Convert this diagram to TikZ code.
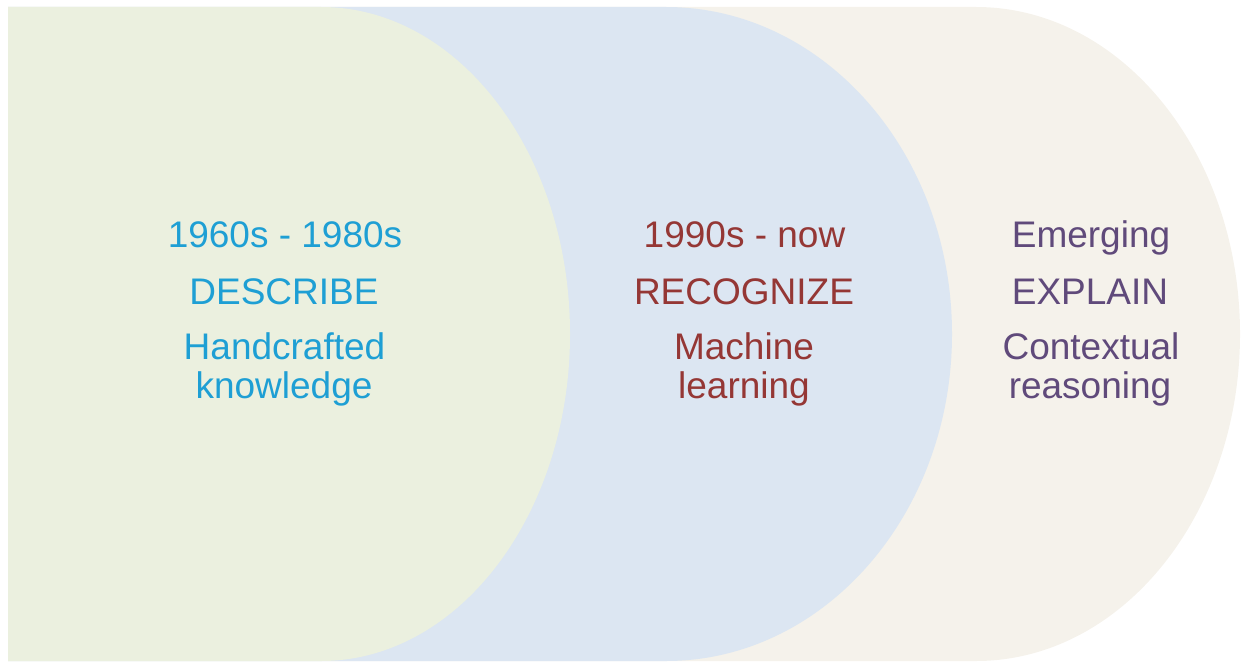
\documentclass[tikz,border=0pt]{standalone}
\usepackage{fontspec}
\setmainfont{Liberation Sans}
\definecolor{fillgreen}{HTML}{EBF0DF}
\definecolor{fillblue}{HTML}{DCE6F2}
\definecolor{fillbeige}{HTML}{F5F2EB}
\definecolor{txtblue}{HTML}{1E9FD4}
\definecolor{txtred}{HTML}{953735}
\definecolor{txtpurple}{HTML}{604A7B}
\tikzset{
  lbl/.style={anchor=base, inner sep=0pt, font=\fontsize{37}{38}\selectfont},
}
\begin{document}
\begin{tikzpicture}[x=1pt,y=-1pt]
\useasboundingbox (0,0) rectangle (1241,663);
% beige (back)
\fill[fillbeige] (8,7) -- (976,7) arc[start angle=90, end angle=-90, x radius=264pt, y radius=327pt] -- (8,661) -- cycle;
% blue (middle)
\fill[fillblue] (8,7) -- (666,7) arc[start angle=90, end angle=-90, x radius=286pt, y radius=327pt] -- (8,661) -- cycle;
% green (front)
\fill[fillgreen] (8,7) -- (321,7) arc[start angle=90, end angle=-90, x radius=249pt, y radius=327pt] -- (8,661) -- cycle;
% texts
\node[lbl, text=txtblue] (g1) at (285,247) {1960s - 1980s};
\node[lbl, text=txtblue] (g2) at (284,304) {DESCRIBE};
\node[lbl, text=txtblue] (g3) at (284.5,359) {Handcrafted};
\node[lbl, text=txtblue] (g4) at (284,398) {knowledge};
\node[lbl, text=txtred] (b1) at (744.5,247) {1990s - now};
\node[lbl, text=txtred] (b2) at (744,304) {RECOGNIZE};
\node[lbl, text=txtred] (b3) at (744,359) {Machine};
\node[lbl, text=txtred] (b4) at (744,398) {learning};
\node[lbl, text=txtpurple] (p1) at (1091,247) {Emerging};
\node[lbl, text=txtpurple] (p2) at (1090,304) {EXPLAIN};
\node[lbl, text=txtpurple] (p3) at (1091,359) {Contextual};
\node[lbl, text=txtpurple] (p4) at (1090,398) {reasoning};
\end{tikzpicture}
\end{document}
